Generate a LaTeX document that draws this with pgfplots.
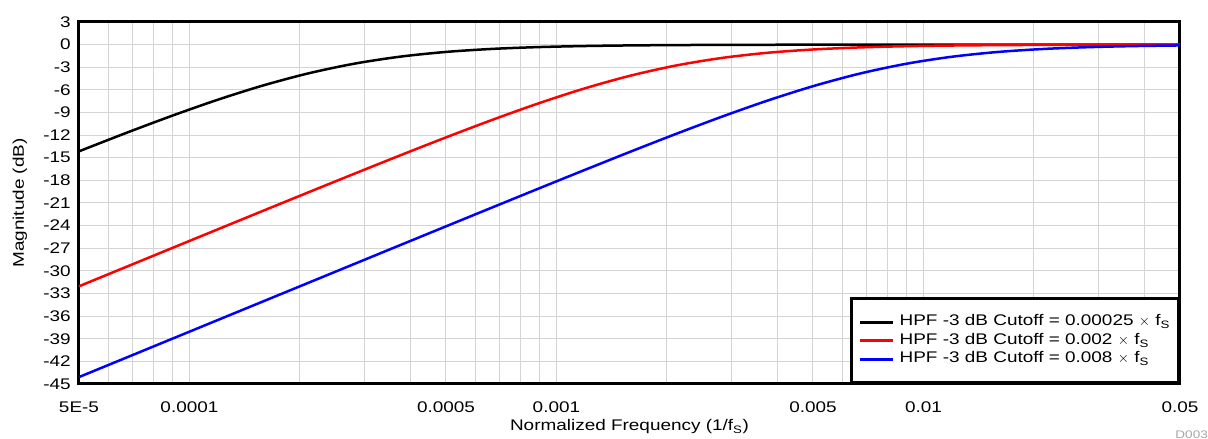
\documentclass[border=0pt]{standalone}
\usepackage{fontspec}
\setmainfont{Liberation Sans}[FakeStretch=1.23]
\usepackage{pgfplots}
\pgfplotsset{compat=1.18}

\pgfplotstableread{
f          black    red      blue
5.0e-5    -14.150  -32.044  -44.082
6.6676e-5 -11.778  -29.546  -41.583
8.8914e-5  -9.497  -27.050  -39.083
1.18569e-4 -7.360  -24.556  -36.583
1.58114e-4 -5.441  -22.068  -34.084
2.10848e-4 -3.813  -19.589  -31.586
2.81171e-4 -2.530  -17.126  -29.088
3.74947e-4 -1.598  -14.691  -26.592
5.0e-4     -0.969  -12.304  -24.099
6.6676e-4  -0.571   -9.999  -21.612
8.8914e-4  -0.330   -7.825  -19.136
1.18569e-3 -0.189   -5.849  -16.677
1.58114e-3 -0.107   -4.150  -14.249
2.10848e-3 -0.061   -2.787  -11.874
2.81171e-3 -0.034   -1.778   -9.588
3.74947e-3 -0.019   -1.087   -7.445
5.0e-3     -0.011   -0.645   -5.515
6.6676e-3  -0.006   -0.374   -3.873
8.8914e-3  -0.003   -0.214   -2.576
1.18569e-2 -0.002   -0.122   -1.630
1.58114e-2 -0.001   -0.069   -0.990
2.10848e-2 -0.001   -0.039   -0.584
2.81171e-2  0.000   -0.022   -0.338
3.74947e-2  0.000   -0.012   -0.193
5.0e-2      0.000   -0.007   -0.110
}\datatable

\pgfplotsset{
  myleg/.style={legend image code/.code={\draw[##1, line width=2.6pt] (0pt,0pt) -- (33pt,0pt);}}
}

\begin{document}
\fontsize{15.4pt}{17pt}\selectfont
\begin{tikzpicture}
\begin{axis}[
  at={(79pt,55pt)}, anchor=south west,
  scale only axis, width=1101pt, height=362pt,
  xmode=log, xmin=5e-5, xmax=0.05, ymin=-45, ymax=3,
  ytick={-45,-42,...,3},
  xtick={5e-5,1e-4,5e-4,1e-3,5e-3,1e-2,5e-2},
  xticklabels={5E-5,0.0001,0.0005,0.001,0.005,0.01,0.05},
  minor xtick={6e-5,7e-5,8e-5,9e-5,2e-4,3e-4,4e-4,6e-4,7e-4,8e-4,9e-4,2e-3,3e-3,4e-3,6e-3,7e-3,8e-3,9e-3,2e-2,3e-2,4e-2},
  grid=both,
  major grid style={draw=black!17, line width=1pt},
  minor grid style={draw=black!17, line width=1pt},
  major tick length=0pt, minor tick length=0pt,
  axis line style={line width=3pt},
  /pgf/number format/assume math mode=true,
  ticklabel style={font=\fontsize{15.4pt}{17pt}\selectfont},
  xticklabel style={anchor=center, yshift=-23pt},
  yticklabel style={anchor=east, xshift=-3pt},
  xlabel={Normalized Frequency (1/f\textsubscript{S})},
  ylabel={Magnitude (dB)},
  label style={font=\fontsize{15.4pt}{17pt}\selectfont},
  xlabel style={at={(axis description cs:0.5,0)}, anchor=center, yshift=-43pt},
  ylabel style={at={(axis description cs:0,0.5)}, anchor=center, yshift=59pt},
  legend style={at={(1,0)}, anchor=south east, draw=black, line width=3pt,
    font=\fontsize{15.4pt}{17pt}\selectfont, inner xsep=7pt, inner ysep=14pt,
    nodes={text height=11.5pt, text depth=4pt, inner sep=1.5pt},
    /tikz/every odd column/.append style={column sep=4pt}},
  legend cell align=left,
]
\addplot[black, line width=2.5pt, smooth, myleg] table[x=f, y=black] {\datatable};
\addlegendentry{HPF -3 dB Cutoff = 0.00025 $\times$ f\textsubscript{S}}
\addplot[red, line width=2.5pt, smooth, myleg] table[x=f, y=red] {\datatable};
\addlegendentry{HPF -3 dB Cutoff = 0.002 $\times$ f\textsubscript{S}}
\addplot[blue, line width=2.5pt, smooth, myleg] table[x=f, y=blue] {\datatable};
\addlegendentry{HPF -3 dB Cutoff = 0.008 $\times$ f\textsubscript{S}}
\end{axis}
\node[anchor=north east, inner sep=0pt, text=black!35, font=\fontsize{11pt}{12pt}\selectfont] at (1208pt,8pt) {D003};
\pgfresetboundingbox
\useasboundingbox (0pt,0pt) rectangle (1208pt,439pt);
\end{tikzpicture}
\end{document}
